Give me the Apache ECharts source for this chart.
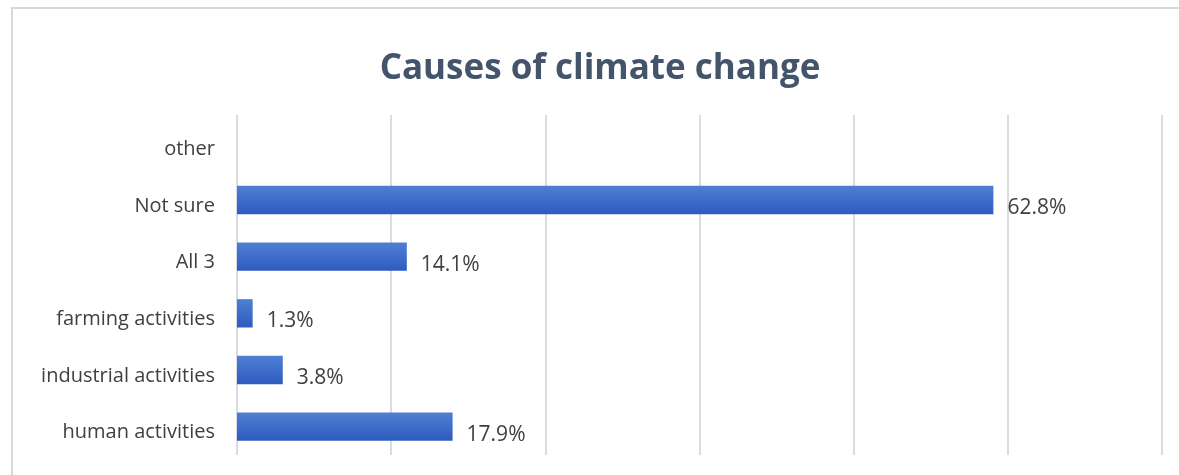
<!DOCTYPE html>
<html>
<head>
<meta charset="utf-8">
<script src="https://cdn.jsdelivr.net/npm/echarts@6/dist/echarts.min.js"></script>
<style>
  html, body { margin: 0; padding: 0; background: #fff; }
  #frame {
    position: absolute; left: 11px; top: 7px; width: 1180px; height: 480px;
    border: 2px solid #d9d9d9; box-sizing: border-box;
  }
  #chart { position: absolute; left: 0; top: 0; width: 1179px; height: 475px; }
</style>
</head>
<body>
<div id="frame"></div>
<div id="chart"></div>
<script>
// bottom-to-top order, as drawn on the category axis
const categories = ['human activities', 'industrial activities', 'farming activities', 'All 3', 'Not sure', 'other'];
const shares = [17.9, 3.8, 1.3, 14.1, 62.8, 0];
const axisMax = 76.8;

const chart = echarts.init(document.getElementById('chart'));

chart.setOption({
  animation: false,
  title: {
    text: 'Causes of climate change',
    left: 595,
    textAlign: 'center',
    top: 47,
    textStyle: { fontFamily: 'Open Sans', fontWeight: 'bold', fontSize: 35, color: '#44546a' }
  },
  grid: { left: 237, right: 17, top: 115, bottom: 20 },
  xAxis: {
    type: 'value',
    min: 0,
    max: axisMax,
    interval: axisMax / 6,
    axisLabel: { show: false },
    axisLine: { show: false },
    axisTick: { show: false },
    splitLine: { lineStyle: { color: '#d9dce3', width: 2 } }
  },
  yAxis: {
    type: 'category',
    data: categories,
    axisLine: { show: false },
    axisTick: { show: false },
    axisLabel: {
      fontFamily: 'Open Sans', fontSize: 20, color: '#404040', margin: 22,
      verticalAlign: 'top', lineHeight: 12
    }
  },
  series: [{
    type: 'bar',
    data: shares,
    barWidth: '50%',
    itemStyle: {
      color: new echarts.graphic.LinearGradient(0, 0, 0, 1, [
        { offset: 0, color: '#4f7fd4' },
        { offset: 1, color: '#2e5bbe' }
      ])
    },
    label: {
      show: true,
      position: 'right',
      distance: 14,
      offset: [0, 8],
      fontFamily: 'Open Sans',
      fontSize: 21,
      color: '#404040',
      formatter: p => (p.value ? p.value.toFixed(1) + '%' : '')
    }
  }]
});
</script>
</body>
</html>
